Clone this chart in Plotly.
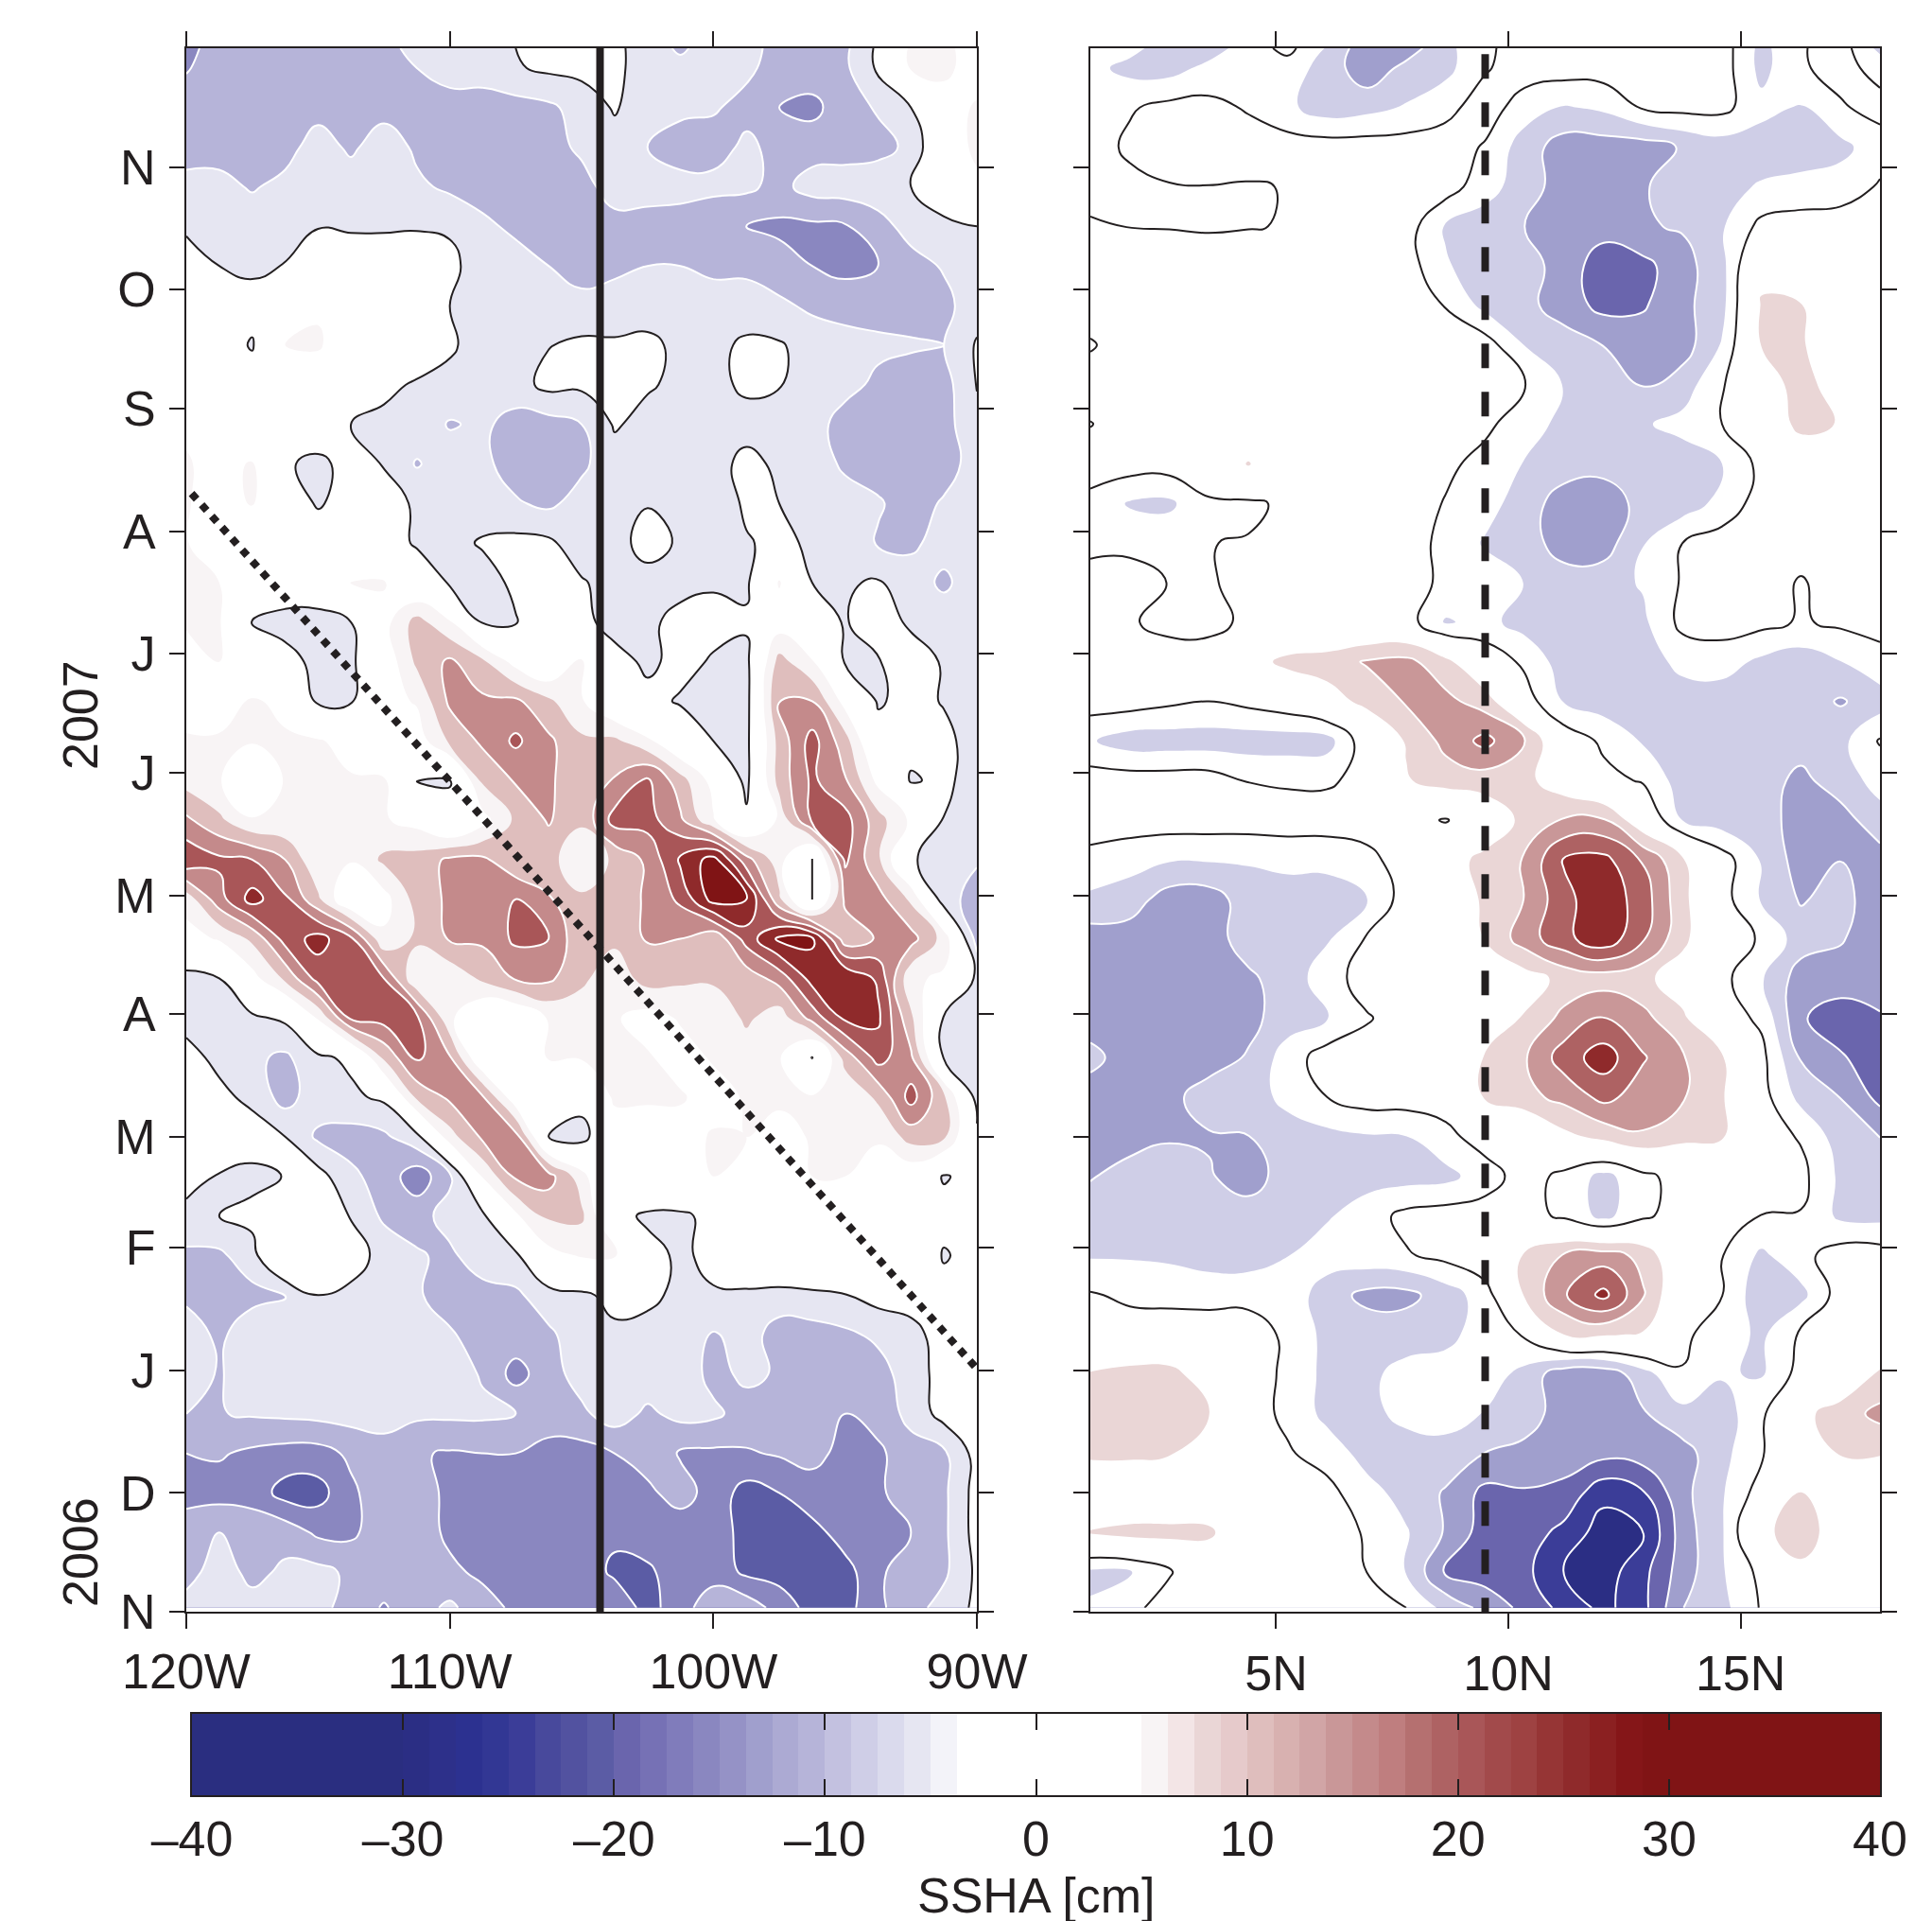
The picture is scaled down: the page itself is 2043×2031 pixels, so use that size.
import plotly.graph_objects as go

INK = "#231f20"
FONT = "Liberation Sans"
W, H = 2043, 2031

# stripes of the colorbar, -40 to 40 cm, 1.25 cm each
cbar_centers = [-39.375 + 1.25 * i for i in range(64)]
cbar_colors = [
    "#2a2e80", "#2a2e80", "#2a2e80", "#2a2e80", "#2a2e80", "#2a2e80", "#2a2e80", "#2a2e80",
    "#2b2e84", "#2d308a", "#2c3190", "#323794", "#3b3d98", "#48499c", "#5252a0", "#5b5ca5",
    "#6a65ad", "#7671b5", "#807cbb", "#8a87c0", "#9592c6", "#a09fcd", "#acaad3", "#b6b4d9",
    "#c3c1e0", "#cfcee7", "#dadaed", "#e6e6f2", "#f3f3f9", "#ffffff", "#ffffff", "#ffffff",
    "#ffffff", "#ffffff", "#ffffff", "#ffffff", "#f8f4f5", "#f3e5e6", "#ead6d6", "#e6cacb",
    "#dfbebd", "#d8b1b0", "#d1a5a6", "#c99798", "#c48a8b", "#bf7e7f", "#b57070", "#ae6263",
    "#a95658", "#a24a4b", "#9e4242", "#963535", "#8f2a2b", "#8b2021", "#851618", "#801415",
    "#801415", "#801415", "#801415", "#801415", "#801415", "#801415", "#801415", "#801415",
]
cbar_ticks = [-40, -30, -20, -10, 0, 10, 20, 30, 40]
cbar_ticktext = ["\u201340", "\u201330", "\u201320", "\u201310", "0", "10", "20", "30", "40"]

# days since 1 Nov 2006
month_days = [0, 30, 61, 92, 120, 151, 181, 212, 242, 273, 304, 334, 365]
month_text = ["N", "D", "J", "F", "M", "A", "M", "J", "J", "A", "S", "O", "N"]

lon_ticks = [-120, -110, -100, -90]
lon_text = ["120W", "110W", "100W", "90W"]
lat_ticks = [5, 10, 15]
lat_text = ["5N", "10N", "15N"]

grid_days = [395, 390, 380, 370, 360, 350, 340, 330, 320, 310, 300, 290, 280, 270,
             260, 250, 240, 230, 220, 210, 200, 190, 180, 170, 160, 150, 140, 130,
             120, 110, 100, 90, 80, 70, 60, 50, 40, 30, 20, 10, 1]

left_lon = [-120, -118.75, -117.5, -116.25, -115, -113.75, -112.5, -111.25, -110, -108.75,
            -107.5, -106.25, -105, -103.75, -102.5, -101.25, -100, -98.75, -97.5, -96.25,
            -95, -93.75, -92.5, -91.25, -90]

# SSHA [cm], top row first
left_ssha = [
    [-17,-12,-12,-12,-12,-12,-12,-8,-7,-7,-5,-3,-3,-4,-7,-11,-7,-8,-12,-12,-11,-4,6,6,3],
    [-15.5,-12,-12,-12,-12,-12,-12,-10,-8,-8,-5.5,-4,-3.5,-4,-7,-8,-7,-9,-12,-12,-11,-4,5.5,6,3],
    [-12,-12,-12,-12,-12,-12,-12,-12,-12,-12,-12,-11,-8,-4.5,-8,-9,-9.5,-11.5,-15,-16.5,-12,-9.5,-5,3,5.5],
    [-12,-12,-12,-12,-7.5,-11,-7,-11,-12,-12,-12,-12,-9,-7,-10,-12,-12,-9,-11.5,-12,-12,-11.5,-9,2,6],
    [-8.5,-8.5,-10.5,-8.5,-8,-7,-7,-9,-11,-12,-12,-12,-12,-7.5,-8,-8.5,-8.5,-9,-11.5,-8,-7.5,-7,-5,-3.5,4],
    [-5.5,-7,-7,-7,-5.1,-5.3,-5.3,-5.2,-5.5,-9,-11,-12,-12,-12,-12,-12,-14.5,-15,-16,-16,-15.5,-12,-8,-5.5,-5],
    [-3.5,-5,-6,-4.8,-3.5,-3.5,-3.5,-3.5,-4,-7,-8,-10,-12,-10.5,-10,-10,-11,-11,-13,-15,-16.5,-15,-12,-9.5,-7],
    [5.5,-3,-3,4,4.5,-2,-2,-2,-5,-6.5,-7,-7,-8.5,-9,-7,-8,-8,-8,-9,-11,-12,-12,-12,-11.5,-7],
    [5.5,-2,-5.5,5,5.5,2,-2,-2,-4.5,-6.5,-7,-5.2,-4,-4,-4,-6,-6.5,-4,-4.5,-7,-8,-9,-9.5,-10,-4.5],
    [-3,-2,-2,-2,2,-2,-4,-5.5,-6,-7,-7,-3.5,-4,-4,-4.5,-6,-6.5,-4,-4.8,-6.5,-8.5,-11,-12,-12,-4.8],
    [4,-2,-2,-3,-2,-5,-6,-6.5,-10.5,-9,-12,-12,-10,-4.5,-6.5,-7,-7,-7,-7,-8,-12,-12,-12,-12,-6],
    [5.5,3,5.5,-4.5,-6,-3.5,-5.2,-10.5,-7,-9,-12,-12,-11,-7,-7,-7.5,-7,-3.5,-6,-7,-11,-12,-12,-12,-8],
    [5.5,2,5.5,-2,-5.5,-3,-3.5,-5.5,-6.5,-7.5,-9.5,-11,-8,-6.5,-5.2,-8,-9,-4,-5,-6.5,-7.5,-9.5,-12,-9.5,-7.5],
    [5.5,-1.5,-1,-1,-2,-2,-3,-5.5,-6.5,-4.5,-3.5,-4,-8,-6.5,-3.5,-5.5,-7,-5.5,-3.5,-6,-7,-10.5,-11,-8,-7],
    [5.5,5,-1,-1,-1,5.5,5.5,-2,-5.5,-7,-4,-3,-4.5,-7,-6.5,-6.5,-5.5,-6,5.5,-5,-5.5,-4.5,-7.5,-11,-7],
    [5.5,5.5,-5.2,-7,-7,-5,3,12,5.5,-5.5,-5.3,-2,-3.5,-7,-6,-3.5,-3.5,-4.2,2,-3.5,-5.2,-3.5,-5.5,-7,-7],
    [3,5,-1,-3,-6.5,-6,1,11,16,11,3,-1,5.5,-3,-6,-3.5,-5.5,-6.5,12,5.5,-5.5,-5.2,-3.5,-5.3,-7],
    [3,3,5.5,4,-6,-5.5,3,5.5,16,16,16,11,5.5,-1,-3.5,-5.5,-7,-7,15.5,15,3,-5.5,-3.5,-5.3,-7],
    [5.5,5.5,5.5,5.5,5.5,3,1,2,11,16,21,16,11,11,6,-1,-5,-6.5,12,22,12,-3,-3.5,-3.8,-7],
    [8,5.5,-2,5.5,5.5,5.5,5.5,-5.2,-5.2,11,15.5,16,11,15.5,21,12,3,-6.5,12,21,15.5,3.5,-5.5,-4,-7],
    [16,11,5.5,5.5,5,5.5,5.5,3,-4,3,11,15.5,11,22,22,16,5.5,-4,6,21,22,12,4,-5.2,-7],
    [24,21,20,15,5.5,5.5,11,12,16,16,11,12,5.5,11,16,26,32,17,7,-5.5,21,11,-4.5,-7,-9.5],
    [7,18,27,21,11,-1,3,12,16,16,20,15.5,11,11,16,21,32,31,11,-5.2,16,17,9,-8,-12],
    [3,5.5,11,22,27,21,6,11,15.5,16,21,20,11,11,15.5,15,11,22,31,31,12,15.5,17,8,-12],
    [-7,-5,3,11,22,21,20,5.5,6,11,15.5,16,11,7,12,11,11,12,17,27,30,24,6,4,-6],
    [-7,-7,-6,-4,5.5,21,22,21,6,-1,-1,5.5,7,5.5,3,5.5,5.5,11,7,17,26,26,11,-5.5,-5],
    [-3,-6.5,-9,-11,-6,-4,11,21,15.5,-1,-1,5.5,5.5,5.5,5.5,3,5.5,7,5.5,-5.2,12,22,16,-5.5,-7],
    [-3,-3.5,-6.5,-12,-7,-6,-4,11,16,15.5,1,-4.8,-3,6,5.5,5.5,3,5.5,6,5.5,5.5,11,22,11,-7],
    [-3,3,-2,-5,-11,-12,-11,-6.5,8,16,17,-5,-7,1.5,3,3,5.5,5,3,5.5,5.5,5.5,12,11,-4],
    [-3,-5.5,-6.5,-4.8,-3,-9,-12,-18,-11,5.5,16,17,7,-4.5,3,3,5,3,2,5,5,3,1,-5.5,-3],
    [-6.5,-5,-3.5,-3,-3,-5.2,-11,-12,-8,-6,4,11,11,-3,-6,-6,-3.5,3,2,5,3,1,1,-3,-3],
    [-11,-11,-7,5,2,-3,-6.5,-9.5,-11,-7,-6,3,5.5,5.5,-3,-6,-3.5,3,5,5,3,1,1,-5.5,-3],
    [-11,-12,-11.5,-10.5,-5,-6,-7,-9.5,-12,-12,-11,-7,-6,-3.5,-4,-6,-5.5,-6.5,-7.5,-6.5,-5.2,-3,-3,-3,-2],
    [-7.5,-11,-7,-7,-7,-7,-7,-7.5,-9.5,-12,-12,-11,-7,-6,-6.5,-7,-10.5,-8,-12,-12,-11,-9,-6.5,-3,-2],
    [-7,-10.5,-7,-7,-7,-7,-7,-7,-7.5,-10.5,-17,-12,-8,-7,-7,-7,-11.5,-9,-10.5,-12,-12,-12,-7.5,-3,-2],
    [-10,-10.2,-9.5,-9,-8.5,-8,-8,-9,-9,-9,-10,-12,-11,-7.5,-11,-8.5,-9,-12,-12,-13,-15,-13,-8.5,-3,2],
    [-15,-14.5,-16,-17,-17,-14,-12,-14.5,-15.5,-15,-15,-17,-17,-15,-13,-15.5,-16,-15.5,-14.5,-14,-16,-16,-12,-11,-3],
    [-17,-17,-17,-22,-22,-16,-12,-13,-16,-17,-17,-17,-17,-16.5,-16,-13,-17,-22,-20,-16.5,-16,-16,-12,-11,-3],
    [-12,-10,-12,-12,-16,-16,-12,-12.5,-16,-17,-17,-17,-17,-19,-17,-18,-17,-22,-22,-22,-17.5,-16,-15,-11,-3],
    [-12,-7.5,-11.5,-9,-8.5,-11,-12,-13,-14,-16,-17,-17,-17,-21,-21,-17,-17,-21,-22,-22,-22,-16,-12,-11,-4],
    [-8,-8,-8,-7.5,-8.5,-12,-15.5,-12,-9,-13,-16,-17,-17,-16,-22,-17,-12,-12,-17,-22,-22,-16,-12,-8,-4],
]

right_lat = [1, 1.85, 2.7, 3.55, 4.4, 5.25, 6.1, 6.95, 7.8, 8.65, 9.5, 10.35, 11.2, 12.05,
             12.9, 13.75, 14.6, 15.45, 16.3, 17.15, 18]

right_ssha = [
    [-5,-6,-10,-10,-5,-1,-8,-16,-15,-9,-3.5,0,0,0,0,0,0,-9,-3,0,-9],
    [-6,-9,-9.5,-6,-5,-5,-9.5,-16,-11,-9,-3,0,0,0,0,0,0,-9,-3,-1,-4],
    [-5,-3,-1,-1,-3,-6.5,-10,-9,-7,-4,0,-5,-8,-6.5,-2,-1,-1,-6,-8,-3,-1],
    [-5,-1.5,0,0,0,0,0,0,0,0,-3,-10,-15,-15,-15,-12,-10,-10,-10,-9,-4.5],
    [-4,-4,-2.8,-2.6,-2.9,-2.3,0,0,0,0,-5.5,-10,-15,-15,-13,-10,-9,-7,-6,-5,-2],
    [-2,-2.6,-2.7,-3,-2.7,-2.3,0,0,0,-8,-10,-12.5,-15,-15,-13,-12,-8,-1,0,0,0],
    [0,0,0,0,0,0,0,0,0,-7,-10,-11,-14,-21,-19,-14.5,-9,6,0,0,0],
    [0,0,0,0,0,0,0,0,0,-2.7,-9,-11,-15,-19,-18,-14,-9,8,7.9,0,0],
    [-3,0,0,0,0,0,0,0,0,0,0,-7.6,-10,-12.6,-15,-15,-7,7.7,8.5,0,0],
    [0,0,0,0,0,0,0,0,0,0,0,-2,-7.8,-10,-12.7,-10,-3,4,10,4,0],
    [-2.7,0,0,0,0,0,0,0,0,0,-1.5,-5,-9,-10,-8,-6,-2.5,0,10,7,0],
    [0,0,0,0,8,0,0,0,0,-1.5,-4,-7.8,-10,-11,-10,-10,-7.5,-1,0,0,0],
    [-4,-8,-8.5,-3,-3.5,-1.5,0,0,0,-2.8,-5.5,-10,-15,-15,-11,-10,-6,0,0,0,0],
    [-3.5,-4,-4,-2.6,-2.2,0,0,0,0,-4,-8,-10,-15,-15,-7.6,-2.5,0,0,0,0,8],
    [-1,0,-2.7,-3,-1,0,0,0,-0.5,-3.5,-5,-7.6,-10,-9.5,-7,-2,0,0,-3,0,8],
    [0,-2,-4,-4,-1.5,0,0,0,0,-8,-6,-9.5,-10,-10,-8.5,-1,0,-1,-3,-1.5,-1],
    [0,0,0,0,5,9,10,13,14,9,1,-3.5,-10,-10,-10,-6,-5.5,-8.5,-10,-7.6,-4],
    [0,0,-1.5,-2.5,-1,1,5,9,13,14,10,0,-7.8,-10,-10,-10,-10,-10,-10,-13,-10],
    [-7,-10,-10,-10,-10,-10,-9.5,1,8,14,19,12.6,1,-3.5,-8,-10,-10,-10,-10,-9,-2],
    [0,0,0,0,-2.7,-3.2,-3.2,-1,7,10,10,9,4,-1,-3,-10,-10,-10,-14,-9.5,-6],
    [0,0,0,0,0,0,0,0,0,-3,3,9,13,13,3,-7.6,-10,-10,-15,-15,-9],
    [-4,-5.5,-7,-7,-7,-6,-6,-4,0,5,9,13,23,24,17,8,0,-8,-15,-12.6,-15],
    [-8.5,-10,-15,-15,-10,-10,-10,-7.6,0,0,9,12.6,21,26,20,9,-0.5,-8,-13,-10.5,-16],
    [-15,-15,-14,-15,-10,-10,-8,-2,0,0,7.8,15,21,26,18,9,0,-3,-10,-12,-16],
    [-15,-15,-15,-15,-13.5,-10,-5,0,0,0,0,5,9,10,9,4,-1,-7,-15,-15,-15],
    [-15,-15,-15,-15,-14,-10,-7.6,-3,0,0,3,8,14,18,14,8.5,0,-3.5,-17,-20,-18],
    [-11,-15,-15,-15,-12,-5,0,0,0,0,8,12,20,25,18,13,8,-1,-13,-17,-20],
    [-15,-15,-14,-10,-10,-6,-2.5,0,0,0,8,11,14,19,15,13,8,-0.5,-9,-12.6,-19],
    [-15,-15,-13,-13,-12.6,-10,-9,-8,-7.6,-4,0,0,6,9,12,9,8,0,-3,-10,-12.6],
    [-13,-10,-10,-12,-15,-10,-9,-9.5,-9.5,-9,-5,0,-4,-9,-4,0,0,0,-1,-8.5,-8],
    [-9,-9.5,-10,-10,-10,-9.5,-8,-5,-1,0,0,-0.5,-3.5,-9,-3.5,0,0,-2.6,-2.8,-8.5,-9],
    [-8,-8,-8.5,-10,-10,-7.6,-5,-4,-3,-1,2,8,13,15,11,1,-2.3,-8.5,-4,0,0],
    [-2,-3.5,-3.8,-4,-4,-4.5,-10,-14,-14,-10,-5,8,17,24,13,1,-2.4,-11,-9,0,0],
    [0,0,0,0,0,-3.5,-9,-9.5,-9.5,-9,-5,-2,7.5,8,7,-1.5,-5,-8.5,-1.5,0,0],
    [8,9.5,9.5,4,0,-3.5,-9,-8.5,-6,-5,-5,-9,-16,-16,-9.5,-2.8,-7,-8,-0.5,2,8.5],
    [9.5,10,9.5,7.6,-0.5,-3.5,-9,-9,-6,-5,-7.8,-10,-15,-15,-13,-9,-10,-3.5,6,10,14],
    [9,9,8,3,0,-2,-4.5,-9.5,-10,-9.8,-12.6,-14,-15,-16,-15,-14.5,-9,-3,2,8,8],
    [0,0,0,0,0,0,-1,-5.5,-9.5,-13,-19,-18,-19,-26,-23,-14,-8,0,7.6,0,0],
    [8,9.5,9.5,9,0,0,0,-3,-7,-13,-20,-20,-24,-30,-28,-15,-8,6,10.5,4,0],
    [-8.5,-8,-3,0,0,0,0,-2.5,-7.6,-18,-20,-21,-28,-30,-24,-15,-8,-1,6,0,0],
    [-7,-4,0,0,0,0,0,0,-2.5,-9,-14,-19,-24,-29,-24,-12.6,-9,-2,0,0,0],
]

# stripe of the colorbar used for each filled band, lowest band first
left_bands = [12, 15, 19, 23, 27, 30, 30, 36, 40, 44, 48, 52, 56, 60]
right_bands = [8, 8, 12, 16, 21, 25, 30, 30, 30, 38, 43, 47, 52, 56]

# reference lines
wave_lon = [-119.8, -90]
wave_day = [282.5, 61.4]
section_lon = [-104.3, -104.3]
section_day = [395, 0]
section_lat = [9.5, 9.5]
section_lat_day = [393.5, 0]


def px(x):
    # the page body has an 8px margin
    return (x - 8) / W


def py(y):
    return 1 - (y - 8) / H


def band_scale(bands):
    n = len(bands) - 1
    return [[k / n, cbar_colors[b]] for k, b in enumerate(bands)]


def filled(x, z, start, end, bands, xa, ya):
    return go.Contour(
        x=x, y=grid_days[::-1], z=z[::-1], xaxis=xa, yaxis=ya,
        autocontour=False, showscale=False, hoverinfo="skip",
        contours=dict(coloring="fill", start=start, end=end, size=5, showlines=False),
        colorscale=band_scale(bands),
        line=dict(width=0, smoothing=1.3),
    )


def outline(x, z, start, end, color, xa, ya, width=2):
    return go.Contour(
        x=x, y=grid_days[::-1], z=z[::-1], xaxis=xa, yaxis=ya,
        autocontour=False, showscale=False, hoverinfo="skip",
        contours=dict(coloring="none", start=start, end=end, size=5),
        line=dict(color=color, width=width, smoothing=1.3),
    )


fig = go.Figure()

fig.add_trace(filled(left_lon, left_ssha, -25, 35, left_bands, "x", "y"))
fig.add_trace(outline(left_lon, left_ssha, -20, -10, "white", "x", "y"))
fig.add_trace(outline(left_lon, left_ssha, 15, 30, "white", "x", "y"))
fig.add_trace(outline(left_lon, left_ssha, -5, -5, INK, "x", "y"))

fig.add_trace(filled(right_lat, right_ssha, -32.5, 27.5, right_bands, "x2", "y2"))
fig.add_trace(outline(right_lat, right_ssha, -27.5, -12.5, "white", "x2", "y2"))
fig.add_trace(outline(right_lat, right_ssha, 12.5, 22.5, "white", "x2", "y2"))
fig.add_trace(outline(right_lat, right_ssha, -2.5, -2.5, INK, "x2", "y2"))

fig.add_trace(go.Scatter(x=section_lon, y=section_day, mode="lines", xaxis="x", yaxis="y",
                         line=dict(color=INK, width=8), hoverinfo="skip", showlegend=False))
fig.add_trace(go.Scatter(x=wave_lon, y=wave_day, mode="lines", xaxis="x", yaxis="y",
                         line=dict(color=INK, width=8, dash="8px,8px"), hoverinfo="skip", showlegend=False))
fig.add_trace(go.Scatter(x=section_lat, y=section_lat_day, mode="lines", xaxis="x2", yaxis="y2",
                         line=dict(color=INK, width=8, dash="26px,25px"), hoverinfo="skip", showlegend=False))

fig.add_trace(go.Heatmap(x=cbar_centers, y=[0], z=[cbar_centers], xaxis="x3", yaxis="y3",
                         zmin=cbar_centers[0], zmax=cbar_centers[-1], showscale=False, hoverinfo="skip",
                         colorscale=[[i / 63, c] for i, c in enumerate(cbar_colors)]))

axis_style = dict(showline=True, linecolor=INK, linewidth=2, mirror="ticks", ticks="outside",
                  ticklen=16, tickwidth=2, tickcolor=INK, showgrid=False, zeroline=False)
day_range = [0, 395]

fig.update_layout(
    width=W, height=H,
    margin=dict(l=0, r=0, t=0, b=0, autoexpand=False),
    paper_bgcolor="white", plot_bgcolor="white",
    showlegend=False,
    font=dict(family=FONT, size=52, color=INK),
    xaxis=dict(domain=[px(197), px(1033)], range=[-120, -90], tickvals=lon_ticks, ticktext=lon_text,
               ticklabelstandoff=1, **axis_style),
    yaxis=dict(domain=[py(1704), py(51)], range=day_range, tickvals=month_days, ticktext=month_text,
               ticklabelstandoff=4, **axis_style),
    xaxis2=dict(domain=[px(1153), px(1988)], range=[1, 18], tickvals=lat_ticks, ticktext=lat_text,
                anchor="y2", ticklabelstandoff=3, **axis_style),
    yaxis2=dict(domain=[py(1704), py(51)], range=day_range, tickvals=month_days, ticktext=[""] * 13,
                anchor="x2", **axis_style),
    xaxis3=dict(domain=[px(203), px(1988)], range=[-40, 40], tickvals=cbar_ticks, ticktext=cbar_ticktext,
                anchor="y3", showline=True, linecolor=INK, linewidth=2, mirror="ticks", ticks="inside",
                ticklen=17, tickwidth=2, tickcolor=INK, showgrid=False, zeroline=False, ticklabelstandoff=0),
    yaxis3=dict(domain=[py(1898), py(1812)], range=[-0.5, 0.5], anchor="x3", showticklabels=False,
                ticks="", showline=True, linecolor=INK, linewidth=2, mirror=True, showgrid=False, zeroline=False),
    annotations=[
        dict(text="2007", x=px(85), y=py(756), xref="paper", yref="paper", textangle=-90,
             showarrow=False, xanchor="center", yanchor="middle"),
        dict(text="2006", x=px(85), y=py(1641), xref="paper", yref="paper", textangle=-90,
             showarrow=False, xanchor="center", yanchor="middle"),
        dict(text="SSHA [cm]", x=px(1095), y=py(2004), xref="paper", yref="paper",
             showarrow=False, xanchor="center", yanchor="middle"),
    ],
)

fig.write_html("out.html")
